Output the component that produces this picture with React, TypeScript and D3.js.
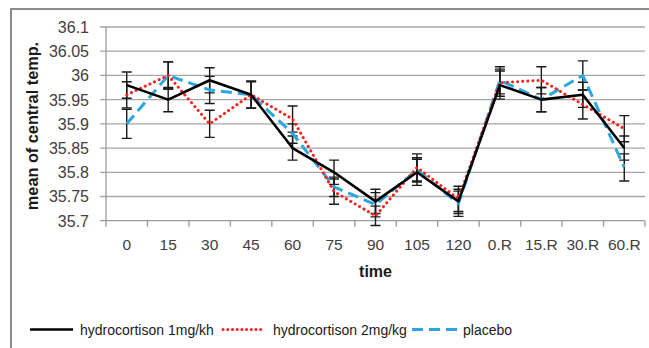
import React, { useEffect, useRef } from 'react';
import * as d3 from 'd3';

// categories on the x axis
const times = ['0', '15', '30', '45', '60', '75', '90', '105', '120', '0.R', '15.R', '30.R', '60.R'];
const yTicks = [35.7, 35.75, 35.8, 35.85, 35.9, 35.95, 36, 36.05, 36.1];

// series means and error (+/-)
const hc1 = [35.98, 35.95, 35.99, 35.96, 35.85, 35.8, 35.74, 35.8, 35.74, 35.98, 35.95, 35.96, 35.85];
const hc1Err = [0.027, 0.025, 0.026, 0.027, 0.025, 0.025, 0.025, 0.027, 0.025, 0.029, 0.025, 0.026, 0.025];
const hc2 = [35.96, 36.0, 35.9, 35.96, 35.91, 35.76, 35.71, 35.81, 35.745, 35.985, 35.99, 35.94, 35.89];
const hc2Err = [0.027, 0.028, 0.028, 0.028, 0.027, 0.026, 0.02, 0.028, 0.026, 0.028, 0.028, 0.03, 0.027];
const placebo = [35.9, 36.0, 35.97, 35.96, 35.88, 35.77, 35.733, 35.805, 35.735, 35.99, 35.95, 36.0, 35.81];
const placeboErr = [0.03, 0.028, 0.028, 0.028, 0.02, 0.02, 0.025, 0.025, 0.026, 0.028, 0.025, 0.03, 0.028];

const legendLabels = ['hydrocortison 1mg/kh', 'hydrocortison 2mg/kg', 'placebo'];

const W = 649;
const H = 348;
const margin = { top: 27, right: 4, bottom: 127.3, left: 106 };

const App = () => {
    const ref = useRef<SVGSVGElement>(null);

    useEffect(() => {
        const svg = d3.select(ref.current);
        svg.selectAll('*').remove();

        const font = '\'Liberation Sans\', Arial, sans-serif';

        const x = d3.scaleBand()
            .domain(times)
            .range([margin.left, W - margin.right]);
        const y = d3.scaleLinear()
            .domain([35.7, 36.1])
            .range([H - margin.bottom, margin.top]);

        // outer frame (only top and left are visible)
        svg.append('path')
            .attr('d', `M11,${H} L11,9 L${W},9`)
            .attr('fill', 'none')
            .attr('stroke', '#8c8c8c')
            .attr('stroke-width', 2);

        // gridlines
        svg.append('g')
            .selectAll('line')
            .data(yTicks)
            .enter()
            .append('line')
            .attr('x1', margin.left - 6)
            .attr('x2', W - margin.right)
            .attr('y1', (d) => y(d))
            .attr('y2', (d) => y(d))
            .attr('stroke', (d) => (d === 35.7 ? '#9a9a9a' : '#a6a6a6'))
            .attr('stroke-width', 1.3);

        // y axis line
        svg.append('line')
            .attr('x1', margin.left)
            .attr('x2', margin.left)
            .attr('y1', margin.top)
            .attr('y2', y(35.7))
            .attr('stroke', '#9a9a9a')
            .attr('stroke-width', 1.3);

        // x ticks at band boundaries
        const bounds = times.map((t) => x(t) as number).concat([W - margin.right]);
        svg.append('g')
            .selectAll('line')
            .data(bounds)
            .enter()
            .append('line')
            .attr('x1', (d) => d)
            .attr('x2', (d) => d)
            .attr('y1', y(35.7))
            .attr('y2', y(35.7) + 6)
            .attr('stroke', '#9a9a9a')
            .attr('stroke-width', 1.3);

        // y tick labels
        svg.append('g')
            .selectAll('text')
            .data(yTicks)
            .enter()
            .append('text')
            .attr('x', 89)
            .attr('y', (d) => y(d) + 6)
            .attr('text-anchor', 'end')
            .style('font-family', font)
            .style('font-size', '16px')
            .attr('fill', '#404040')
            .text((d) => d3.format('')(d));

        // x tick labels
        svg.append('g')
            .selectAll('text')
            .data(times)
            .enter()
            .append('text')
            .attr('x', (d) => (x(d) as number) + x.bandwidth() / 2)
            .attr('y', 250)
            .attr('text-anchor', 'middle')
            .style('font-family', font)
            .style('font-size', '15.5px')
            .attr('fill', '#404040')
            .text((d) => d);

        // axis titles
        svg.append('text')
            .attr('x', (margin.left + W - margin.right) / 2)
            .attr('y', 277)
            .attr('text-anchor', 'middle')
            .style('font-family', font)
            .style('font-size', '16px')
            .attr('font-weight', 'bold')
            .attr('fill', '#1a1a1a')
            .text('time');

        svg.append('text')
            .attr('transform', 'translate(38,126) rotate(-90)')
            .attr('text-anchor', 'middle')
            .style('font-family', font)
            .style('font-size', '16.3px')
            .attr('font-weight', 'bold')
            .attr('fill', '#1a1a1a')
            .text('mean of central temp.');

        const cx = (i: number) => (x(times[i]) as number) + x.bandwidth() / 2;

        // error bars (all black)
        const errGroup = svg.append('g')
            .attr('stroke', '#1a1a1a')
            .attr('stroke-width', 1.4)
            .attr('fill', 'none');
        const allSeries = [
            { vals: placebo, err: placeboErr },
            { vals: hc2, err: hc2Err },
            { vals: hc1, err: hc1Err },
        ];
        allSeries.forEach((s) => {
            s.vals.forEach((v, i) => {
                const top = y(v + s.err[i]);
                const bot = y(v - s.err[i]);
                const px = cx(i);
                errGroup.append('path')
                    .attr('d', `M${px},${top} L${px},${bot} M${px - 5},${top} L${px + 5},${top} M${px - 5},${bot} L${px + 5},${bot}`);
            });
        });

        const line = d3.line<number>()
            .x((d, i) => cx(i))
            .y((d) => y(d));

        const styles = [
            { vals: hc1, color: '#000000', width: 2.6, dash: null, cap: 'butt' },
            { vals: hc2, color: '#ff1f1f', width: 3, dash: '0.1 5', cap: 'round' },
            { vals: placebo, color: '#29a8e0', width: 3, dash: '11 6', cap: 'butt' },
        ];

        // draw placebo first, then red, then black on top
        [styles[2], styles[1], styles[0]].forEach((s) => {
            svg.append('path')
                .datum(s.vals)
                .attr('d', line)
                .attr('fill', 'none')
                .attr('stroke', s.color)
                .attr('stroke-width', s.width)
                .attr('stroke-linecap', s.cap)
                .attr('stroke-linejoin', 'round')
                .attr('stroke-dasharray', s.dash);
        });

        // legend
        const legendPos = [
            { x1: 30, x2: 73, tx: 80 },
            { x1: 223, x2: 263, tx: 273 },
            { x1: 412, x2: 457, tx: 463 },
        ];
        const legend = svg.append('g');
        legendPos.forEach((p, i) => {
            legend.append('line')
                .attr('x1', p.x1)
                .attr('x2', p.x2)
                .attr('y1', 329.5)
                .attr('y2', 329.5)
                .attr('stroke', styles[i].color)
                .attr('stroke-width', styles[i].width)
                .attr('stroke-linecap', styles[i].cap)
                .attr('stroke-dasharray', i === 1 ? '0.1 4.6' : styles[i].dash);
            legend.append('text')
                .attr('x', p.tx)
                .attr('y', 334.5)
                .style('font-family', font)
                .style('font-size', '14px')
                .attr('fill', '#1a1a1a')
                .text(legendLabels[i]);
        });
    }, []);

    return (
        <svg
            ref={ref}
            width={W}
            height={H}
            style={{ position: 'absolute', left: 0, top: 0, background: '#fff' }}
        />
    );
};

export default App;
